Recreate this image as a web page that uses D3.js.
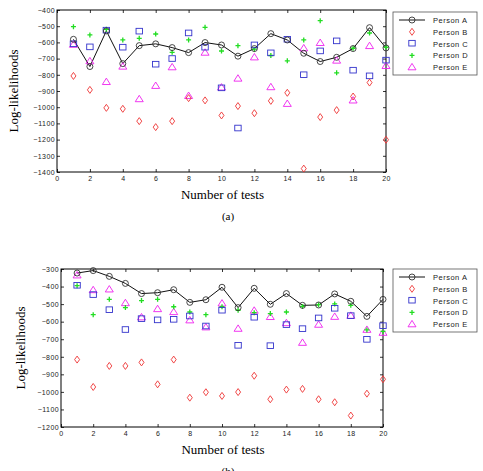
<!DOCTYPE html>
<html>
<head>
<meta charset="utf-8">
<script src="https://cdn.jsdelivr.net/npm/d3@7"></script>
<style>
body { margin: 0; background: #fff; }
svg { display: block; }
</style>
</head>
<body>
<svg id="svg1" width="483" height="471"></svg>
<script>
// test index 1..20
tests = d3.range(1, 21);
persons = ["Person A", "Person B", "Person C", "Person D", "Person E"];

// chart (a)
a_personA = [-581, -749, -529, -731, -620, -609, -632, -663, -601, -616, -685, -638, -546, -585, -667, -718, -692, -638, -509, -634];
a_personB = [-807, -893, -1004, -1010, -1086, -1123, -1086, -944, -958, -1051, -993, -1037, -961, -911, -1379, -1061, -1018, -934, -848, -1201];
a_personC = [-611, -630, -527, -632, -533, -737, -702, -544, -632, -883, -1131, -618, -667, -583, -802, -655, -593, -774, -809, -712];
a_personD = [-503, -554, -519, -585, -575, -548, -661, -585, -507, -653, -620, -642, -681, -714, -585, -466, -788, -636, -542, -630];
a_personE = [-614, -716, -844, -749, -950, -868, -753, -930, -663, -878, -823, -692, -876, -979, -636, -603, -712, -958, -622, -745];
a_yTicks = d3.range(-1400, -399, 100);

// chart (b)
b_personA = [-323, -309, -342, -382, -440, -435, -418, -490, -475, -404, -520, -410, -501, -440, -507, -505, -442, -484, -570, -473];
b_personB = [-816, -972, -852, -852, -832, -957, -816, -1033, -1002, -1023, -1001, -908, -1042, -987, -983, -1042, -1059, -1135, -1010, -928];
b_personC = [-395, -448, -534, -647, -585, -592, -589, -570, -627, -537, -737, -577, -739, -619, -642, -581, -526, -568, -703, -625];
b_personD = [-395, -560, -473, -520, -480, -473, -515, -545, -560, -515, -535, -549, -554, -545, -513, -503, -499, -507, -647, -655];
b_personE = [-336, -420, -416, -494, -575, -528, -545, -592, -632, -496, -640, -537, -573, -608, -720, -617, -572, -566, -646, -663];
b_yTicks = d3.range(-1200, -299, 100);

xTicks = d3.range(0, 21, 2);

colors = ["#333", "#ee3333", "#3333cc", "#22dd22", "#ee22ee"];
shapes = ["circle", "diamond", "square", "plus", "triangle"];

function draw_marker(g, shape, color) {
	if (shape == "circle") {
		g.append("circle").attr("r", 3).attr("fill", "none").attr("stroke", color).attr("stroke-width", 0.9);
	} else if (shape == "diamond") {
		g.append("path").attr("d", "M0,-3.5L2.5,0L0,3.5L-2.5,0Z").attr("fill", "none").attr("stroke", color).attr("stroke-width", 0.9);
	} else if (shape == "square") {
		g.append("rect").attr("x", -3.2).attr("y", -3.2).attr("width", 6.4).attr("height", 5.6).attr("fill", "none").attr("stroke", color).attr("stroke-width", 0.9);
	} else if (shape == "plus") {
		g.append("path").attr("d", "M-2.5,0H2.5M0,-2.5V2.5").attr("stroke", color).attr("stroke-width", 1.3);
	} else if (shape == "triangle") {
		g.append("path").attr("d", "M0,-3.8L4,2.6L-4,2.6Z").attr("fill", "none").attr("stroke", color).attr("stroke-width", 0.9);
	}
}

function draw_chart(settings, series, yTicks, caption) {
	svg = d3.select("#svg1");
	var x = d3.scaleLinear().domain([0, 20]).range([settings.left, settings.right]);
	var y = d3.scaleLinear().domain([d3.min(yTicks), d3.max(yTicks)]).range([settings.bottom, settings.top]);

	g = svg.append("g");

	// frame
	g.append("rect")
		.attr("x", settings.left).attr("y", settings.top)
		.attr("width", settings.right - settings.left).attr("height", settings.bottom - settings.top)
		.attr("fill", "none").attr("stroke", "#000").attr("stroke-width", 1);

	// axes (ticks inward, matlab style)
	g.append("g").attr("transform", "translate(0," + settings.bottom + ")")
		.call(d3.axisBottom(x).tickValues(xTicks).tickSizeInner(-3).tickSizeOuter(0).tickPadding(4))
		.call(a => a.select(".domain").remove());
	g.append("g").attr("transform", "translate(0," + settings.top + ")")
		.call(d3.axisTop(x).tickValues(xTicks).tickSizeInner(-3).tickSizeOuter(0).tickFormat(""))
		.call(a => a.select(".domain").remove());
	g.append("g").attr("transform", "translate(" + settings.left + ",0)")
		.call(d3.axisLeft(y).tickValues(yTicks).tickSizeInner(-3).tickSizeOuter(0).tickPadding(2).tickFormat(d3.format("d")))
		.call(a => a.select(".domain").remove());
	g.append("g").attr("transform", "translate(" + settings.right + ",0)")
		.call(d3.axisRight(y).tickValues(yTicks).tickSizeInner(-3).tickSizeOuter(0).tickFormat(""))
		.call(a => a.select(".domain").remove());

	g.selectAll(".tick text")
		.attr("font-family", "Liberation Sans, Arial, sans-serif")
		.attr("font-size", 7)
		.attr("letter-spacing", 0.4)
		.attr("fill", "#222");
	g.selectAll(".tick line").attr("stroke", "#000").attr("stroke-width", 0.8);

	// person A line
	line = d3.line().x((d, i) => x(tests[i])).y(d => y(d));
	g.append("path").datum(series[0])
		.attr("d", line).attr("fill", "none").attr("stroke", "#111").attr("stroke-width", 1);

	// markers, drawn E..A so A ends on top
	for (k = series.length - 1; k >= 0; k--) {
		g.append("g").selectAll("g").data(series[k]).enter().append("g")
			.attr("transform", (d, i) => "translate(" + x(tests[i]) + "," + y(d) + ")")
			.each(function() { draw_marker(d3.select(this), shapes[k], colors[k]); });
	}

	// labels
	g.append("text")
		.attr("transform", "translate(" + settings.ylabelX + "," + ((settings.top + settings.bottom) / 2) + ") rotate(-90)")
		.attr("text-anchor", "middle")
		.attr("font-family", "Liberation Serif, Times New Roman, serif")
		.attr("font-size", 13)
		.text("Log-likelihoods");
	g.append("text")
		.attr("x", (settings.left + settings.right) / 2 + 1).attr("y", settings.bottom + 27)
		.attr("text-anchor", "middle")
		.attr("font-family", "Liberation Serif, Times New Roman, serif")
		.attr("font-size", 13)
		.text("Number of tests");
	g.append("text")
		.attr("x", 228).attr("y", settings.bottom + 48)
		.attr("text-anchor", "middle")
		.attr("font-family", "Liberation Serif, Times New Roman, serif")
		.attr("font-size", 11)
		.text(caption);

	// legend
	lg = g.append("g").attr("transform", "translate(" + settings.legendX + "," + settings.legendY + ")");
	lg.append("rect").attr("width", 84).attr("height", 63)
		.attr("fill", "#fff").attr("stroke", "#555").attr("stroke-width", 0.8);
	persons.forEach(function(p, i) {
		row = lg.append("g").attr("transform", "translate(0," + (8 + i * 11.8) + ")");
		if (i == 0) {
			row.append("line").attr("x1", 6).attr("x2", 32).attr("stroke", "#111").attr("stroke-width", 1);
		}
		draw_marker(row.append("g").attr("transform", "translate(19,0)"), shapes[i], colors[i]);
		row.append("text").attr("x", 40).attr("y", 3)
			.attr("font-family", "Liberation Sans, Arial, sans-serif")
			.attr("font-size", 7.5)
			.attr("letter-spacing", 0.5)
			.attr("fill", "#222")
			.text(p);
	});
}

draw_chart({left: 57, right: 386, top: 10, bottom: 172, ylabelX: 18, legendX: 393, legendY: 12},
	[a_personA, a_personB, a_personC, a_personD, a_personE], a_yTicks, "(a)");
draw_chart({left: 61, right: 383, top: 269, bottom: 427, ylabelX: 25, legendX: 393, legendY: 269},
	[b_personA, b_personB, b_personC, b_personD, b_personE], b_yTicks, "(b)");
</script>
</body>
</html>
